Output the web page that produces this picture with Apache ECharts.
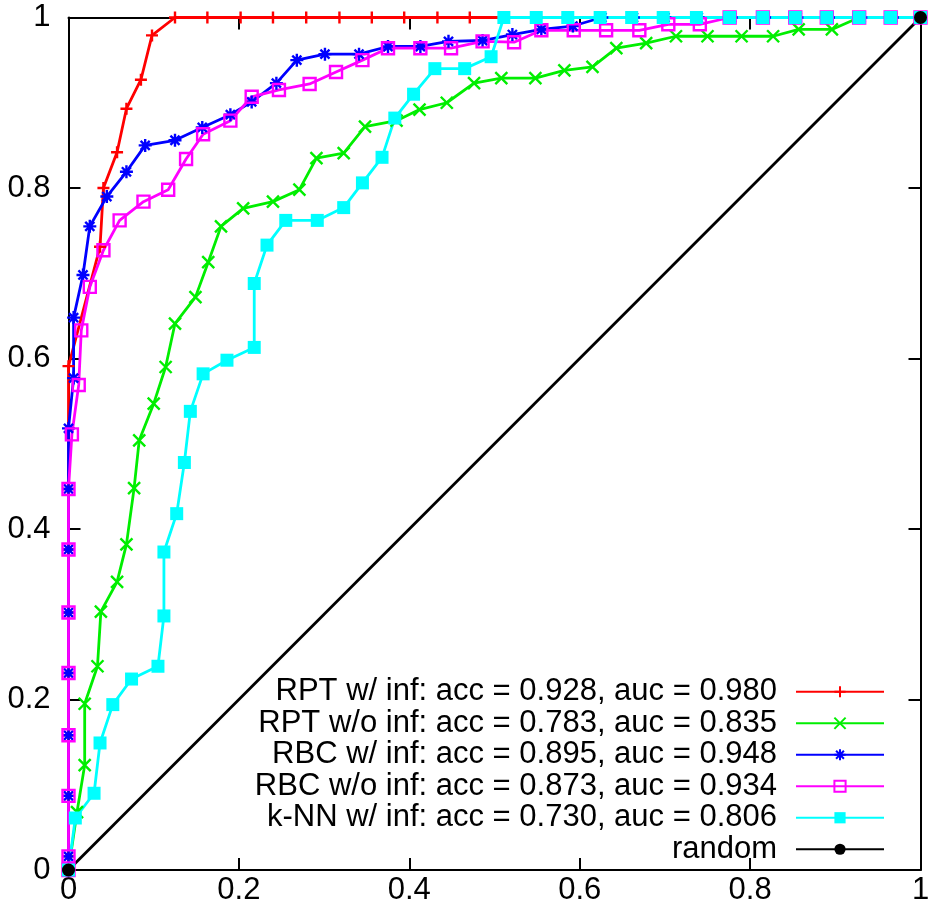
<!DOCTYPE html>
<html>
<head>
<meta charset="utf-8">
<title>ROC</title>
<script src="https://cdn.jsdelivr.net/npm/echarts@6/dist/echarts.min.js"></script>
<style>
  html, body { margin: 0; padding: 0; background: #fff; }
  #chart { width: 935px; height: 916px; }
</style>
</head>
<body>
<div id="chart"></div>
<script>
// [false positive rate, true positive rate]
const rptInf = [[0,0],[0,0.016],[0,0.087],[0,0.158],[0,0.231],[0,0.302],[0,0.376],[0,0.447],[0,0.591],[0.037,0.731],[0.041,0.800],[0.057,0.842],[0.068,0.893],[0.085,0.927],[0.098,0.979],[0.125,1],[0.163,1],[0.202,1],[0.240,1],[0.279,1],[0.318,1],[0.356,1],[0.394,1],[0.433,1],[0.471,1],[0.511,1],[0.549,1],[0.586,1],[0.624,1],[0.661,1],[0.698,1],[0.737,1],[0.776,1],[0.815,1],[0.853,1],[0.890,1],[0.928,1],[0.965,1],[1,1]]
const rptNoInf = [[0,0],[0.010,0.068],[0.019,0.123],[0.019,0.195],[0.034,0.239],[0.038,0.303],[0.057,0.338],[0.068,0.382],[0.077,0.448],[0.083,0.504],[0.100,0.547],[0.114,0.590],[0.125,0.641],[0.149,0.672],[0.164,0.713],[0.179,0.755],[0.205,0.776],[0.240,0.784],[0.271,0.798],[0.291,0.835],[0.323,0.841],[0.348,0.872],[0.385,0.879],[0.412,0.892],[0.444,0.900],[0.476,0.923],[0.508,0.929],[0.548,0.929],[0.582,0.938],[0.615,0.942],[0.643,0.964],[0.678,0.970],[0.713,0.978],[0.750,0.978],[0.790,0.978],[0.827,0.978],[0.857,0.986],[0.896,0.986],[0.928,1],[0.965,1],[1,1]]
const rbcInf = [[0,0],[0,0.016],[0,0.087],[0,0.158],[0,0.231],[0,0.302],[0,0.376],[0,0.447],[0,0.518],[0.006,0.577],[0.006,0.648],[0.017,0.698],[0.025,0.755],[0.045,0.790],[0.068,0.819],[0.090,0.850],[0.125,0.856],[0.157,0.871],[0.190,0.886],[0.215,0.901],[0.244,0.923],[0.268,0.950],[0.301,0.957],[0.341,0.957],[0.375,0.966],[0.413,0.966],[0.446,0.972],[0.486,0.973],[0.521,0.980],[0.555,0.986],[0.592,0.990],[0.626,1],[0.663,1],[0.700,1],[0.739,1],[0.778,1],[0.817,1],[0.855,1],[0.892,1],[0.930,1],[0.967,1],[1,1]]
const rbcNoInf = [[0,0],[0,0.016],[0,0.087],[0,0.158],[0,0.231],[0,0.302],[0,0.376],[0,0.447],[0.004,0.511],[0.012,0.569],[0.015,0.633],[0.025,0.684],[0.041,0.727],[0.060,0.762],[0.088,0.784],[0.117,0.798],[0.138,0.834],[0.158,0.863],[0.190,0.879],[0.215,0.907],[0.247,0.915],[0.283,0.922],[0.314,0.936],[0.345,0.950],[0.375,0.964],[0.413,0.964],[0.449,0.964],[0.486,0.972],[0.523,0.971],[0.555,0.985],[0.593,0.985],[0.631,0.985],[0.670,0.985],[0.704,0.992],[0.741,0.992],[0.776,1],[0.815,1],[0.853,1],[0.890,1],[0.928,1],[0.965,1],[1,1]]
const knnInf = [[0,0],[0.008,0.061],[0.030,0.090],[0.037,0.149],[0.052,0.194],[0.074,0.224],[0.105,0.239],[0.112,0.298],[0.112,0.373],[0.127,0.418],[0.136,0.478],[0.143,0.538],[0.158,0.582],[0.186,0.598],[0.218,0.613],[0.218,0.688],[0.233,0.733],[0.255,0.762],[0.292,0.762],[0.323,0.777],[0.345,0.806],[0.368,0.836],[0.383,0.882],[0.405,0.910],[0.430,0.940],[0.465,0.940],[0.496,0.954],[0.511,1],[0.549,1],[0.586,1],[0.624,1],[0.661,1],[0.698,1],[0.737,1],[0.776,1],[0.815,1],[0.853,1],[0.890,1],[0.928,1],[0.965,1],[1,1]]
const randomLine = [[0,0],[1,1]]

const seriesNames = [
  'RPT w/ inf: acc = 0.928, auc = 0.980',
  'RPT w/o inf: acc = 0.783, auc = 0.835',
  'RBC w/ inf: acc = 0.895, auc = 0.948',
  'RBC w/o inf: acc = 0.873, auc = 0.934',
  'k-NN w/ inf: acc = 0.730, auc = 0.806',
  'random'
]
const tickStep = 0.2

// gnuplot style point shapes
const plusSym = 'path://M0,5 L10,5 M5,0 L5,10'
const crossSym = 'path://M0,0 L10,10 M0,10 L10,0'
const starSym = 'path://M0,5 L10,5 M5,0 L5,10 M1.5,1.5 L8.5,8.5 M1.5,8.5 L8.5,1.5'
const boxSym = 'path://M0,0 L10,0 L10,10 L0,10 Z'

const font = 'Liberation Sans, Arial, Helvetica, sans-serif'

function makeSeries (name, data, color, symbol, size, filled) {
  return {
    name: name,
    type: 'line',
    data: data,
    symbol: symbol,
    symbolSize: size,
    showAllSymbol: true,
    lineStyle: { color: color, width: 2.8 },
    itemStyle: {
      color: filled ? color : 'rgba(0,0,0,0)',
      borderColor: color,
      borderWidth: filled ? 0 : 2.4
    },
    emphasis: { disabled: true }
  }
}

function axisBase (pos, showLabel) {
  return {
    type: 'value',
    min: 0,
    max: 1,
    interval: tickStep,
    position: pos,
    splitLine: { show: false },
    axisLine: { show: true, onZero: false, lineStyle: { color: '#000', width: 2 } },
    axisTick: { show: true, inside: true, length: 12, lineStyle: { color: '#000', width: 2 } },
    axisLabel: { show: showLabel, color: '#000', fontSize: 31, fontFamily: font }
  }
}

const chart = echarts.init(document.getElementById('chart'))
const xBottom = axisBase('bottom', true)
xBottom.axisLabel.margin = 5
const yLeft = axisBase('left', true)
yLeft.axisLabel.margin = 18

chart.setOption({
  animation: false,
  backgroundColor: '#fff',
  grid: { left: 68.5, right: 14.5, top: 17.5, bottom: 46 },
  xAxis: [xBottom, axisBase('top', false)],
  yAxis: [yLeft, axisBase('right', false)],
  legend: {
    orient: 'vertical',
    align: 'right',
    right: 45,
    top: 671,
    itemWidth: 88,
    itemHeight: 14,
    itemGap: 0,
    textStyle: { color: '#000', fontSize: 31, fontFamily: font, lineHeight: 31.5, padding: [0, 14, 0, 0] },
    data: seriesNames
  },
  series: [
    makeSeries(seriesNames[0], rptInf, '#ff0000', plusSym, 12, false),
    makeSeries(seriesNames[1], rptNoInf, '#00ee00', crossSym, 12, false),
    makeSeries(seriesNames[2], rbcInf, '#0000ff', starSym, 13, false),
    makeSeries(seriesNames[3], rbcNoInf, '#ff00ff', boxSym, 12, false),
    makeSeries(seriesNames[4], knnInf, '#00ffff', 'rect', 13, true),
    makeSeries(seriesNames[5], randomLine, '#000000', 'circle', 13, true)
  ]
})
</script>
</body>
</html>
